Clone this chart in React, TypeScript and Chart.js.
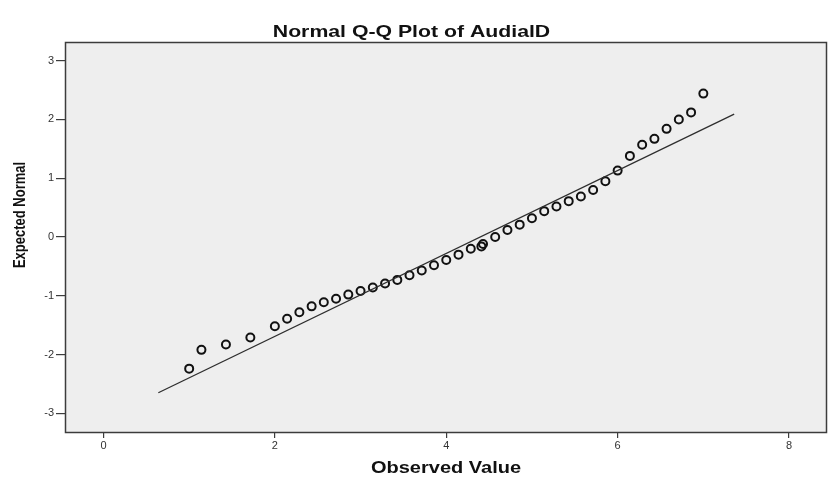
import React, { useEffect, useRef } from "react";
import { Chart, registerables } from "chart.js";

Chart.register(...registerables);

// Observed item averages (steps of 1/7) and their expected normal scores
const observedValues = [
  1.0, 1.143, 1.429, 1.714, 2.0, 2.143, 2.286, 2.429, 2.571, 2.714, 2.857,
  3.0, 3.143, 3.286, 3.429, 3.571, 3.714, 3.857, 4.0, 4.143, 4.286, 4.41,
  4.429, 4.571, 4.714, 4.857, 5.0, 5.143, 5.286, 5.429, 5.571, 5.714, 5.857,
  6.0, 6.143, 6.286, 6.429, 6.571, 6.714, 6.857, 7.0,
];
const expectedNormal = [
  -2.24, -1.92, -1.83, -1.71, -1.52, -1.39, -1.28, -1.18, -1.11, -1.05, -0.98,
  -0.92, -0.86, -0.79, -0.73, -0.65, -0.57, -0.48, -0.39, -0.3, -0.2, -0.16,
  -0.12, 0.0, 0.12, 0.21, 0.32, 0.44, 0.52, 0.61, 0.69, 0.8, 0.95,
  1.13, 1.38, 1.57, 1.67, 1.84, 2.0, 2.12, 2.44,
];

// Reference line of the fitted normal distribution
const refLineX = [0.64, 7.36];
const refLineY = [-2.65, 2.09];

const xTicks = [0, 2, 4, 6, 8];
const yTicks = [-3, -2, -1, 0, 1, 2, 3];

const chartTitle = "Normal Q-Q Plot of AudialD";
const xAxisTitle = "Observed Value";
const yAxisTitle = "Expected Normal";

const FONT = '"Liberation Sans", Arial, Helvetica, sans-serif';
const STRETCH = 1.25;

const framePlugin = {
  id: "qqFrame",
  beforeDraw(chart: any) {
    const { ctx, chartArea, width, height } = chart;
    ctx.save();
    ctx.fillStyle = "#ffffff";
    ctx.fillRect(0, 0, width, height);
    ctx.fillStyle = "#eeeeee";
    ctx.fillRect(
      chartArea.left,
      chartArea.top,
      chartArea.right - chartArea.left,
      chartArea.bottom - chartArea.top
    );
    ctx.restore();
  },
  afterDraw(chart: any) {
    const { ctx, chartArea } = chart;
    ctx.save();
    ctx.strokeStyle = "#3c3c3c";
    ctx.lineWidth = 1.5;
    ctx.strokeRect(
      chartArea.left + 0.5,
      chartArea.top + 0.5,
      chartArea.right - chartArea.left - 1,
      chartArea.bottom - chartArea.top - 1
    );

    ctx.fillStyle = "#111111";
    ctx.textAlign = "center";
    ctx.textBaseline = "alphabetic";

    // chart title
    ctx.save();
    ctx.font = `bold 17px ${FONT}`;
    ctx.translate(411.5, 37);
    ctx.scale(STRETCH, 1);
    ctx.fillText(chartTitle, 0, 0);
    ctx.restore();

    // x axis title
    ctx.save();
    ctx.font = `bold 16px ${FONT}`;
    ctx.translate((chartArea.left + chartArea.right) / 2, 473);
    ctx.scale(STRETCH, 1);
    ctx.fillText(xAxisTitle, 0, 0);
    ctx.restore();

    // y axis title
    ctx.save();
    ctx.font = `bold 13px ${FONT}`;
    ctx.translate(25, 215);
    ctx.rotate(-Math.PI / 2);
    ctx.scale(1, STRETCH);
    ctx.fillText(yAxisTitle, 0, 0);
    ctx.restore();

    ctx.restore();
  },
};

export default function App() {
  const canvasRef = useRef<HTMLCanvasElement | null>(null);

  useEffect(() => {
    const canvas = canvasRef.current;
    if (!canvas) return;

    const points = observedValues.map((x, i) => ({ x, y: expectedNormal[i] }));
    const linePoints = refLineX.map((x, i) => ({ x, y: refLineY[i] }));

    const tickFont = { family: FONT, size: 11 };

    const chart = new Chart(canvas, {
      type: "scatter",
      data: {
        datasets: [
          {
            label: "Reference",
            data: linePoints,
            showLine: true,
            borderColor: "#2e2e2e",
            borderWidth: 1.3,
            pointRadius: 0,
            fill: false,
          } as any,
          {
            label: yAxisTitle,
            data: points,
            showLine: false,
            pointRadius: 4,
            pointHoverRadius: 4,
            pointStyle: "circle",
            borderColor: "#111111",
            borderWidth: 2,
            backgroundColor: "rgba(0,0,0,0)",
          },
        ],
      },
      options: {
        responsive: false,
        animation: false,
        devicePixelRatio: 1,
        layout: { padding: { top: 42, right: 9, bottom: 0, left: 0 } },
        plugins: {
          legend: { display: false },
          tooltip: { enabled: false },
          title: { display: false },
        },
        scales: {
          x: {
            type: "linear",
            min: -0.449,
            max: 8.443,
            afterBuildTicks: (scale: any) => {
              scale.ticks = xTicks.map((value) => ({ value }));
            },
            afterFit: (scale: any) => {
              scale.height = 50;
            },
            border: { display: false },
            grid: {
              drawOnChartArea: false,
              drawTicks: true,
              tickLength: 5,
              color: "#3c3c3c",
              lineWidth: 1.2,
            },
            ticks: {
              color: "#333333",
              font: tickFont,
              padding: 1,
              maxRotation: 0,
              autoSkip: false,
              includeBounds: false,
            },
          },
          y: {
            type: "linear",
            min: -3.335,
            max: 3.318,
            afterBuildTicks: (scale: any) => {
              scale.ticks = yTicks.map((value) => ({ value }));
            },
            afterFit: (scale: any) => {
              scale.width = 65;
            },
            border: { display: false },
            grid: {
              drawOnChartArea: false,
              drawTicks: true,
              tickLength: 9,
              color: "#3c3c3c",
              lineWidth: 1.2,
            },
            ticks: {
              color: "#333333",
              font: tickFont,
              padding: 2,
              autoSkip: false,
              includeBounds: false,
            },
          },
        },
      },
      plugins: [framePlugin],
    });

    return () => chart.destroy();
  }, []);

  return (
    <div style={{ position: "absolute", left: 0, top: 0, width: 836, height: 483 }}>
      <canvas ref={canvasRef} width={836} height={483} />
    </div>
  );
}
